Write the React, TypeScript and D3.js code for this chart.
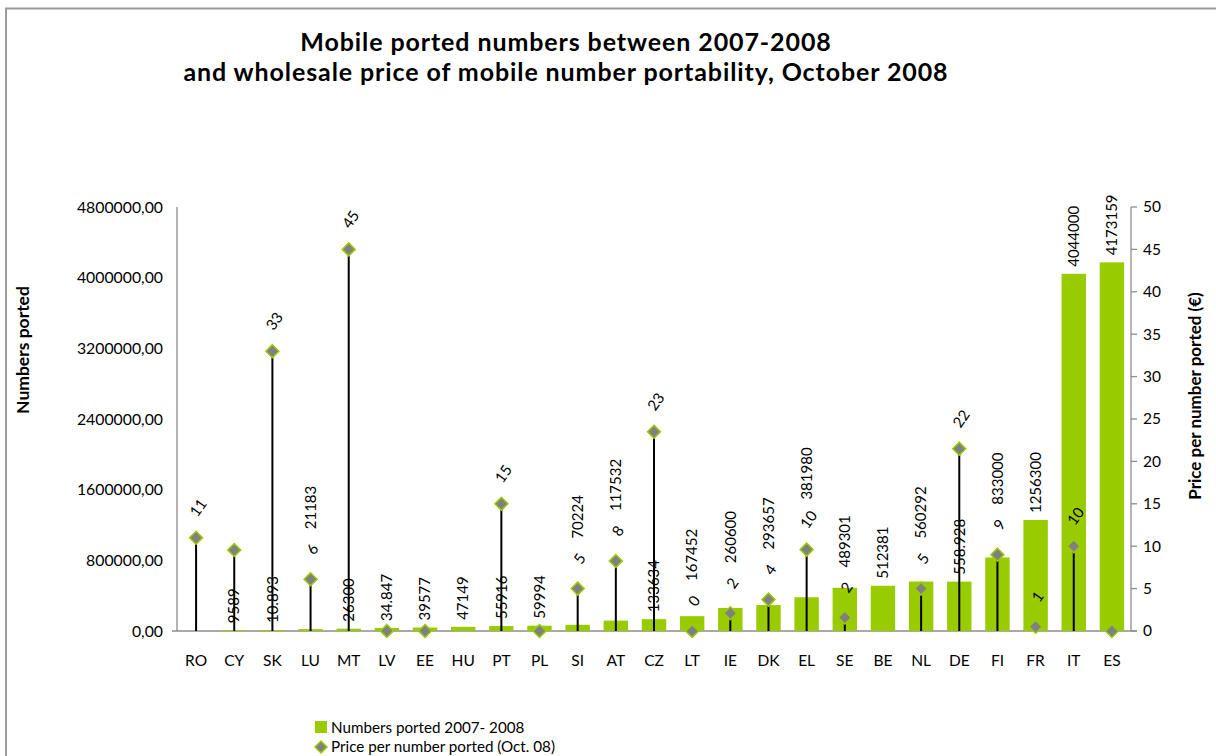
import React from 'react';
import * as d3 from 'd3';

const countries = ['RO', 'CY', 'SK', 'LU', 'MT', 'LV', 'EE', 'HU', 'PT', 'PL', 'SI', 'AT', 'CZ', 'LT', 'IE', 'DK', 'EL', 'SE', 'BE', 'NL', 'DE', 'FI', 'FR', 'IT', 'ES'];

const numbersPorted: (number | null)[] = [null, 9589, 10893, 21183, 26300, 34847, 39577, 47149, 55916, 59994, 70224, 117532, 133634, 167452, 260600, 293657, 381980, 489301, 512381, 560292, 558928, 833000, 1256300, 4044000, 4173159];

const numbersLabels = ['', '9589', '10.893', '21183', '26300', '34.847', '39577', '47149', '55916', '59994', '70224', '117532', '133634', '167452', '260600', '293657', '381980', '489301', '512381', '560292', '558.928', '833000', '1256300', '4044000', '4173159'];

const prices: (number | null)[] = [11, 9.55, 33, 6.1, 45, 0, 0, null, 15, 0, 5, 8.25, 23.5, 0, 2.1, 3.7, 9.6, 1.6, null, 5, 21.5, 9, 0.5, 10, 0];

const priceLabels = ['11', '', '33', '6', '45', '', '', '', '15', '', '5', '8', '23', '0', '2', '4', '10', '2', '', '5', '22', '9', '1', '10', ''];

const leftTicks = [0, 800000, 1600000, 2400000, 3200000, 4000000, 4800000];
const rightTicks = [0, 5, 10, 15, 20, 25, 30, 35, 40, 45, 50];

const titleLines = ['Mobile ported numbers between 2007-2008', 'and wholesale price of mobile number portability, October 2008'];
const legendLabels = ['Numbers ported 2007- 2008', 'Price per number ported (Oct. 08)'];

const GREEN = '#99CC00';
const GREY = '#808080';
const AXIS = '#8c8c8c';
const FONT = 'Lato, "Open Sans", sans-serif';

export default function App() {
  const left = 177, right = 1131, top = 207, bottom = 631;
  const x = d3.scaleBand<string>().domain(countries).range([left, right]).paddingInner(0.36).paddingOuter(0.18);
  const yL = d3.scaleLinear().domain([0, 4800000]).range([bottom, top]);
  const yR = d3.scaleLinear().domain([0, 50]).range([bottom, top]);
  const fmtL = (v: number) => d3.format('.2f')(v).replace('.', ',');
  const bw = x.bandwidth();
  const cx = (c: string) => (x(c) as number) + bw / 2;
  const diamond = (px: number, py: number, r: number) => `M${px},${py - r}L${px + r},${py}L${px},${py + r}L${px - r},${py}Z`;
  const PRICE_LIFT = 30;

  // bar label placement: just above the bar, unless it would collide with the
  // price marker / price label of the same country, then it goes above them.
  const barLabelBottom = (i: number) => {
    const v = numbersPorted[i] as number;
    let b = yL(v) - 7;
    const p = prices[i];
    const lab = priceLabels[i];
    if (p != null && lab) {
      const len = numbersLabels[i].length * 8.7;
      const topT = b - len;
      const dy = yR(p);
      const ly = dy - PRICE_LIFT;
      const hitsDiamond = dy + 7 > topT && dy - 7 < b;
      const hitsLabel = ly + 12 > topT && ly - 12 < b;
      if (hitsDiamond || hitsLabel) b = Math.min(b, ly - 20);
    }
    return b;
  };

  return (
    <svg width={1216} height={756} style={{ position: 'absolute', left: 0, top: 0, background: '#fff' }} fontFamily={FONT}>
      <rect x={0} y={0} width={1216} height={756} fill="#fff" />
      <rect x={6} y={8.5} width={1400} height={900} fill="none" stroke="#9a9a9a" strokeWidth={2} />

      {titleLines.map((t, i) => (
        <text key={i} x={566} y={51 + i * 30} textAnchor="middle" fontSize={25} letterSpacing={0.9} fontWeight={700} fill="#000">{t}</text>
      ))}

      {/* axes */}
      <line x1={left} x2={left} y1={top} y2={bottom} stroke={AXIS} strokeWidth={1.3} />
      <line x1={right} x2={right} y1={top} y2={bottom} stroke={AXIS} strokeWidth={1.3} />
      <line x1={left - 5} x2={right + 6} y1={bottom} y2={bottom} stroke={AXIS} strokeWidth={1.3} />
      {rightTicks.map(t => (
        <line key={t} x1={right} x2={right + 6} y1={yR(t)} y2={yR(t)} stroke={AXIS} strokeWidth={1.3} />
      ))}

      {leftTicks.map(t => (
        <text key={t} x={163} y={yL(t)} dy="0.35em" textAnchor="end" fontSize={15.8} fill="#000">{fmtL(t)}</text>
      ))}
      {rightTicks.map(t => (
        <text key={t} x={1143} y={yR(t)} dy="0.35em" textAnchor="start" fontSize={15.5} fill="#000">{t}</text>
      ))}
      {countries.map(c => (
        <text key={c} x={cx(c)} y={666} textAnchor="middle" fontSize={15.5} fill="#000">{c}</text>
      ))}

      <text transform={`translate(29,350) rotate(-90)`} textAnchor="middle" fontSize={17.5} fontWeight={700} fill="#000">Numbers ported</text>
      <text transform={`translate(1201,396) rotate(-90)`} textAnchor="middle" fontSize={17} fontWeight={700} fill="#000">Price per number ported (€)</text>

      {/* bars */}
      {countries.map((c, i) => {
        const v = numbersPorted[i];
        if (v == null) return null;
        return <rect key={c} x={x(c)} y={yL(v)} width={bw} height={bottom - yL(v)} fill={GREEN} />;
      })}

      {/* drop lines */}
      {countries.map((c, i) => {
        const p = prices[i];
        if (p == null || p === 0) return null;
        return <line key={c} x1={cx(c)} x2={cx(c)} y1={yR(p)} y2={bottom} stroke="#000" strokeWidth={2} />;
      })}

      {/* bar labels */}
      {countries.map((c, i) => {
        const v = numbersPorted[i];
        if (v == null || !numbersLabels[i]) return null;
        const ly = barLabelBottom(i);
        return (
          <text key={c} transform={`translate(${cx(c)},${ly}) rotate(-90)`} dy="0.35em" textAnchor="start" fontSize={15} fill="#000">{numbersLabels[i]}</text>
        );
      })}

      {/* diamonds */}
      {countries.map((c, i) => {
        const p = prices[i];
        if (p == null) return null;
        return <path key={c} d={diamond(cx(c), yR(p), 6.5)} fill={GREY} stroke={GREEN} strokeWidth={1.5} />;
      })}

      {/* price labels */}
      {countries.map((c, i) => {
        const p = prices[i];
        if (p == null || !priceLabels[i]) return null;
        return (
          <text key={c} transform={`translate(${cx(c) + 2},${yR(p) - PRICE_LIFT}) rotate(-55)`} dy="0.35em" textAnchor="middle" fontSize={15} fill="#000">{priceLabels[i]}</text>
        );
      })}

      {/* legend */}
      <rect x={315} y={721} width={12} height={12} fill={GREEN} />
      <text x={331} y={733} fontSize={15.2} fill="#000">{legendLabels[0]}</text>
      <path d={diamond(321, 747, 6)} fill={GREY} stroke={GREEN} strokeWidth={1.5} />
      <text x={331} y={752} fontSize={15.2} fill="#000">{legendLabels[1]}</text>
    </svg>
  );
}
